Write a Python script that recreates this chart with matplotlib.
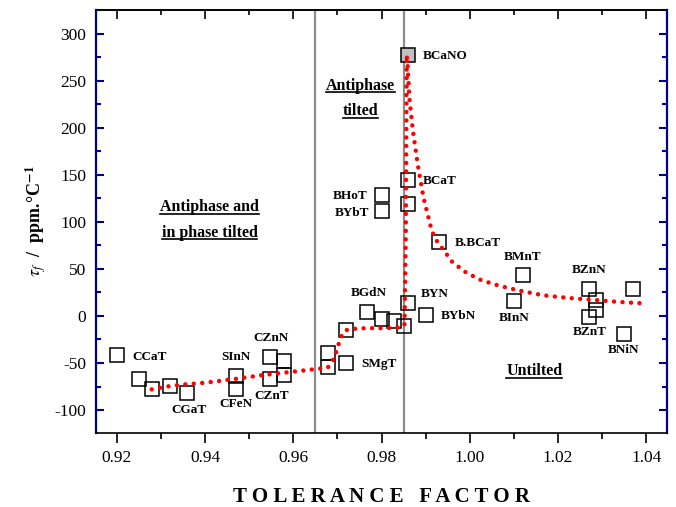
import matplotlib
matplotlib.use("Agg")
import matplotlib.pyplot as plt
from matplotlib.lines import Line2D
from matplotlib.ticker import MultipleLocator

plt.rcParams['font.family'] = ['Liberation Serif', 'DejaVu Serif']
plt.rcParams['mathtext.fontset'] = 'stix'
plt.rcParams['axes.unicode_minus'] = False

# measured compounds: tolerance factor vs tau_f
tol = [0.920, 0.925, 0.928, 0.932, 0.936, 0.947, 0.947, 0.9546, 0.9546, 0.9578,
       0.9578, 0.9678, 0.9678, 0.972, 0.972, 0.9768, 0.980, 0.9828, 0.985, 0.986,
       0.990, 0.993, 0.986, 0.986, 0.980, 0.980, 1.012, 1.010, 1.027, 1.0287,
       1.0287, 1.027, 1.037, 1.035]
tau = [-42, -67, -78, -74, -82, -64, -78, -44, -67, -48,
       -63, -39, -54, -50, -15, 4, -3, -5, -11, 14,
       1, 79, 144, 119, 129, 112, 44, 16, 29, 17,
       6, -1, 29, -19]
# BCaNO drawn filled
tol_hl = [0.986]
tau_hl = [277]

# red dotted guide curve
fit_tol = [0.9279, 0.9313, 0.9346, 0.9399, 0.9467, 0.9528, 0.9603, 0.9678, 0.9694,
           0.9701, 0.9712, 0.9724, 0.9765, 0.9810, 0.9841, 0.9852, 0.9853, 0.9855,
           0.9857, 0.9859, 0.9863, 0.9871, 0.9882, 0.9895, 0.9912, 0.9920, 0.9961,
           0.9992, 1.0026, 1.0067, 1.0112, 1.0165, 1.0226, 1.0282, 1.0335, 1.0388]
fit_tau = [-78, -75, -73, -71, -67, -63, -59, -55, -44,
           -32, -18, -14, -13, -13, -12, -10, 20, 90,
           277, 268, 232, 197, 161, 126, 94, 83, 57,
           46, 38, 32, 27, 22, 19, 17, 15, 13.5]

# point labels
lab_txt = ['CCaT', 'CGaT', 'SInN', 'CFeN', 'CZnN', 'CZnT', 'SMgT', 'BGdN', 'BYN', 'BYbN',
           'B.BCaT', 'BCaNO', 'BCaT', 'BHoT', 'BYbT', 'BMnT', 'BInN', 'BZnN', 'BZnT', 'BNiN']
lab_x = [0.9234, 0.9363, 0.947, 0.947, 0.955, 0.955, 0.9754, 0.977, 0.989, 0.9935,
         0.9966, 0.9893, 0.9893, 0.9769, 0.9772, 1.012, 1.010, 1.027, 1.0271, 1.0348]
lab_y = [-41.6, -98.4, -41.6, -92.3, -22.2, -83, -49.8, 25.6, 24.5, 1.9,
         78.7, 278, 145, 129, 111, 64.6, -0.2, 50.4, -15.8, -34.5]
lab_ha = ['left', 'center', 'center', 'center', 'center', 'center', 'left', 'center', 'left', 'left',
          'left', 'left', 'left', 'right', 'right', 'center', 'center', 'center', 'center', 'center']

# region captions (underlined)
reg_txt = ['Antiphase and', 'in phase tilted', 'Antiphase', 'tilted', 'Untilted']
reg_x = [0.941, 0.941, 0.9752, 0.9752, 1.0146]
reg_y = [111.3, 84.2, 240.5, 213.2, -62.9]

boundaries = [0.965, 0.985]

fig = plt.figure(figsize=(6.76, 5.07), dpi=100)
ax = fig.add_axes([0.1416, 0.1466, 0.8456, 0.8337])

for b in boundaries:
    ax.axvline(b, color='#8c8c8c', lw=1.6, zorder=1)

ax.plot(tol, tau, ls='none', marker='s', ms=10, mfc='none', mec='black', mew=1.1, zorder=3)
ax.plot(tol_hl, tau_hl, ls='none', marker='s', ms=10, mfc='#c0c0c0', mec='black', mew=1.1, zorder=3)
ax.plot(fit_tol, fit_tau, color='red', lw=3.2, ls=(0, (0.01, 1.9)),
        dash_capstyle='round', zorder=4)

for t, x, y, ha in zip(lab_txt, lab_x, lab_y, lab_ha):
    ax.text(x, y, t, ha=ha, va='center_baseline', fontsize=9.5, fontweight='bold', zorder=5)

reg_objs = []
for t, x, y in zip(reg_txt, reg_x, reg_y):
    reg_objs.append(ax.text(x, y, t, ha='center', va='baseline', fontsize=11.5,
                            fontweight='bold', zorder=5))

ax.set_xlim(0.9152, 1.0448)
ax.set_ylim(-124, 325)
ax.xaxis.set_major_locator(MultipleLocator(0.02))
ax.xaxis.set_minor_locator(MultipleLocator(0.01))
ax.yaxis.set_major_locator(MultipleLocator(50))
ax.yaxis.set_minor_locator(MultipleLocator(25))
ax.xaxis.set_major_formatter(plt.FormatStrFormatter('%.2f'))

ax.tick_params(axis='x', which='major', direction='out', length=7.2, width=1.2,
               color='black', pad=5, labelsize=12.5)
ax.tick_params(axis='x', which='minor', direction='out', length=4, width=1.2, color='black')
ax.tick_params(axis='y', which='both', direction='in', left=True, right=True,
               color='#00008b', width=1.5)
ax.tick_params(axis='y', which='major', length=5.8, pad=7, labelsize=12.5)
ax.tick_params(axis='y', which='minor', length=3.8)

top = ax.secondary_xaxis('top')
top.xaxis.set_major_locator(MultipleLocator(0.02))
top.xaxis.set_minor_locator(MultipleLocator(0.01))
top.tick_params(which='major', direction='in', length=6.5, width=1.2, labeltop=False)
top.tick_params(which='minor', direction='in', length=3.6, width=1.2)
top.spines['top'].set_linewidth(1.2)

for s in ['left', 'right']:
    ax.spines[s].set_color('#00008b')
    ax.spines[s].set_linewidth(1.6)
for s in ['top', 'bottom']:
    ax.spines[s].set_color('black')
    ax.spines[s].set_linewidth(1.2)

ax.set_xlabel('T O L E R A N C E   F A C T O R', fontsize=15, fontweight='bold')
ax.xaxis.set_label_coords(0.5, -0.128)
ax.set_ylabel(r'$\tau_{f}$  /  ppm.°C$^{\mathbf{-1}}$', fontsize=13, fontweight='bold')
ax.yaxis.set_label_coords(-0.082, 0.5)

# underline the region captions
fig.canvas.draw()
rend = fig.canvas.get_renderer()
inv = fig.transFigure.inverted()
for t in reg_objs:
    bb = t.get_window_extent(rend)
    xb, yb = ax.transData.transform((0, t.get_position()[1]))
    yl = yb - 2.8
    p0 = inv.transform((bb.x0, yl))
    p1 = inv.transform((bb.x1, yl))
    fig.add_artist(Line2D([p0[0], p1[0]], [p0[1], p1[1]], color='black', lw=1.2))

fig.savefig('out.png', dpi=100)
